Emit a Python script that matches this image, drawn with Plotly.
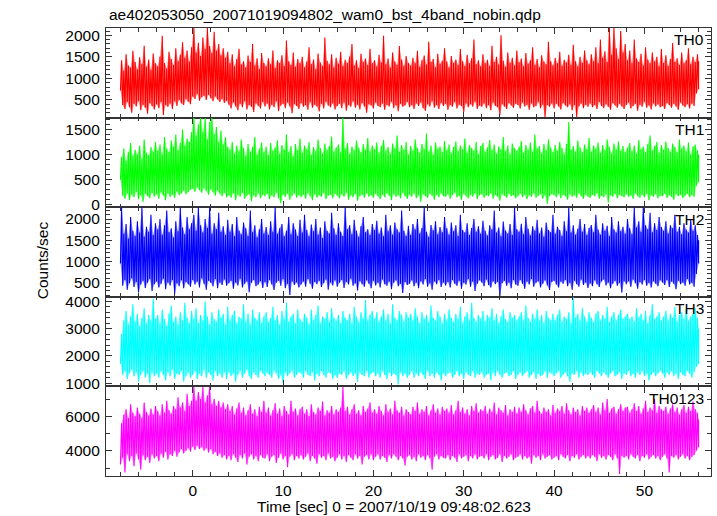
import plotly.graph_objects as go
from plotly.subplots import make_subplots

# ---------------- data ----------------
title_text = "ae402053050_20071019094802_wam0_bst_4band_nobin.qdp"
band_names = ["TH0", "TH1", "TH2", "TH3", "TH0123"]
band_colors = ["#ff0000", "#00ff00", "#0000ff", "#00ffff", "#ff00ff"]
band_tints = ["rgba(255,0,0,0.45)", "rgba(0,255,0,0.45)", "rgba(0,0,255,0.45)",
              "rgba(0,255,255,0.45)", "rgba(255,0,255,0.45)"]

# sample times (sec): one envelope sample every 0.25 s from -8 to 56
t_env = [-8.0 + 0.25 * i for i in range(257)]

# per-sample upper / lower extent of the light curve (counts/sec)
th0_hi = [1420, 1180, 1560, 1300, 1250, 1640, 1380, 1210, 1490, 1330, 1760, 1270, 1440, 1200, 1580, 1350,
          1290, 1510, 1990, 1360, 1230, 1620, 1450, 1310, 1700, 1400, 1550, 1840, 1480, 1650, 1390, 1720,
          2170, 1600, 1830, 1520, 1950, 1680, 2170, 1750, 1590, 2080, 1640, 1800, 1530, 1700, 1480, 1620,
          1350, 1560, 1280, 1450, 1690, 1320, 1400, 1250, 1530, 1380, 1800, 1300, 1470, 1220, 1590, 1360,
          1280, 1470, 1330, 1650, 1240, 1420, 1360, 1540, 1290, 1880, 1400, 1310, 1600, 1270, 1450, 1350,
          1500, 1260, 1390, 1720, 1330, 1440, 1210, 1580, 1370, 1290, 1950, 1410, 1320, 1560, 1250, 1480,
          1340, 1620, 1290, 1430, 1360, 1510, 1800, 1300, 1420, 1240, 1570, 1380, 1460, 1310, 1690, 1350,
          1420, 1280, 1550, 1370, 1990, 1330, 1460, 1250, 1600, 1390, 1310, 1750, 1440, 1290, 1520, 1360,
          1300, 1480, 1350, 1640, 1270, 1420, 1530, 1320, 1850, 1380, 1450, 1260, 1570, 1340, 1410, 1700,
          1390, 1250, 1520, 1360, 1440, 1310, 1680, 1400, 1290, 1550, 1350, 1470, 1900, 1330, 1420, 1280,
          1560, 1350, 1430, 1290, 1760, 1380, 1500, 1320, 2000, 1410, 1270, 1600, 1360, 1480, 1300, 1650,
          1370, 1460, 1280, 1590, 1340, 1420, 1720, 1310, 1450, 1260, 1540, 1390, 1330, 1850, 1400, 1300,
          1480, 1350, 1620, 1290, 1430, 1370, 1550, 1310, 1780, 1400, 1280, 1500, 1360, 1650, 1420, 1330,
          1560, 1400, 1720, 1350, 1900, 1480, 1630, 1380, 2170, 1550, 2170, 1700, 1450, 2100, 1600, 1800,
          1420, 1650, 1350, 1900, 1460, 1380, 1570, 1300, 1720, 1440, 1350, 1600, 1390, 1500, 1280, 1680,
          1360, 1540, 1290, 1450, 1820, 1380, 1470, 1310, 1600, 1350, 1420, 1700, 1330, 1500, 1380, 1560,
          1400]
th0_lo = [720, 380, 290, 450, 330, 200, 410, 350, 470, 260, 390, 320, 180, 430, 360, 280,
          400, 310, 450, 150, 380, 340, 420, 290, 470, 360, 500, 420, 380, 520, 460, 400,
          580, 520, 640, 480, 560, 600, 500, 620, 540, 470, 580, 510, 450, 520, 430, 480,
          390, 300, 440, 350, 260, 410, 330, 470, 280, 380, 340, 220, 420, 360, 300, 450,
          350, 420, 280, 390, 330, 470, 240, 370, 410, 310, 440, 350, 190, 400, 360, 290,
          430, 340, 380, 270, 450, 320, 390, 350, 230, 410, 300, 460, 370, 330, 420, 280,
          360, 410, 310, 440, 250, 380, 340, 470, 320, 390, 280, 430, 350, 200, 400, 370,
          300, 440, 360, 330, 420, 270, 390, 350, 460, 310, 380, 240, 410, 340, 370, 450,
          330, 380, 290, 420, 360, 440, 310, 250, 400, 350, 470, 320, 380, 290, 430, 360,
          410, 270, 380, 340, 450, 300, 390, 360, 220, 420, 330, 400, 350, 460, 290, 370,
          340, 420, 310, 380, 260, 440, 360, 330, 150, 400, 350, 290, 430, 370, 320, 410,
          380, 300, 440, 350, 390, 270, 420, 330, 360, 450, 310, 390, 100, 380, 340, 420,
          300, 410, 350, 280, 430, 370, 330, 400, 260, 380, 100, 350, 420, 310, 390, 340,
          420, 330, 380, 290, 450, 360, 310, 400, 340, 270, 430, 370, 320, 410, 350, 290,
          380, 440, 300, 360, 410, 250, 390, 340, 460, 320, 370, 280, 420, 350, 400, 330,
          360, 290, 430, 380, 320, 410, 350, 270, 440, 370, 330, 400, 300, 420, 360, 650,
          750]

th1_hi = [950, 1120, 880, 1050, 1230, 970, 1100, 1010, 1180, 920, 1300, 1040, 990, 1150, 1060, 1250,
          1080, 1200, 1010, 1350, 1120, 1050, 1280, 1160, 1400, 1090, 1230, 1500, 1180, 1320, 1250, 1450,
          1740, 1380, 1600, 1740, 1450, 1740, 1300, 1650, 1740, 1400, 1550, 1250, 1480, 1200, 1350, 1150,
          1100, 1250, 1020, 1180, 1070, 1300, 1130, 980, 1210, 1060, 1150, 1350, 1000, 1120, 1240, 1050,
          1160, 990, 1230, 1080, 1140, 1280, 1020, 1190, 1100, 1400, 1050, 1170, 960, 1210, 1090, 1320,
          1040, 1180, 1110, 1250, 1000, 1150, 1070, 1300, 1130, 1020, 1220, 1090, 1170, 1360, 1060, 1140,
          1200, 1050, 1740, 1120, 1230, 1010, 1160, 1090, 1280, 1140, 1040, 1210, 1100, 1330, 1070, 1180,
          1110, 1240, 1030, 1170, 1290, 1080, 1150, 1020, 1220, 1120, 1380, 1060, 1190, 1100, 1250, 1000,
          1170, 1080, 1300, 1130, 1040, 1210, 1110, 1420, 1060, 1180, 1000, 1240, 1120, 1160, 1050, 1270,
          1090, 1200, 1030, 1150, 1260, 1070, 1180, 1110, 1320, 1040, 1190, 1130, 1080, 1250, 1010, 1170,
          1230, 1060, 1140, 1290, 1090, 1200, 1020, 1160, 1110, 1350, 1070, 1180, 1000, 1220, 1130, 1080,
          1150, 1270, 1040, 1190, 1100, 1240, 1060, 1400, 1120, 1170, 1030, 1210, 1090, 1300, 1140, 1050,
          1190, 1080, 1250, 1130, 1020, 1210, 1650, 1100, 1170, 1060, 1280, 1140, 1050, 1200, 1110, 1330,
          1060, 1180, 1120, 1240, 1040, 1190, 1090, 1300, 1150, 1030, 1220, 1110, 1260, 1080, 1170, 1050,
          1140, 1230, 1070, 1180, 1020, 1290, 1110, 1160, 1050, 1210, 1380, 1090, 1170, 1250, 1030, 1190,
          1100, 1260, 1130, 1060, 1220, 1150, 1040, 1300, 1120, 1180, 1070, 1240, 1010, 1160, 1200, 1080,
          1000]
th1_lo = [500, 180, 120, 230, 90, 200, 150, 260, 110, 190, 60, 220, 170, 130, 240, 160,
          210, 120, 250, 180, 90, 230, 160, 200, 140, 260, 190, 230, 280, 210, 250, 300,
          320, 260, 350, 290, 240, 330, 270, 200, 310, 250, 180, 280, 220, 170, 240, 150,
          190, 140, 230, 90, 200, 160, 240, 120, 180, 210, 70, 190, 150, 230, 130, 200,
          170, 220, 110, 190, 150, 240, 130, 30, 200, 160, 220, 100, 180, 230, 140, 190,
          150, 200, 120, 230, 170, 90, 210, 140, 190, 160, 240, 110, 180, 200, 130, 220,
          180, 130, 210, 160, 240, 100, 190, 150, 220, 80, 170, 200, 140, 230, 160, 190,
          140, 220, 170, 110, 200, 150, 230, 180, 90, 210, 160, 190, 130, 240, 170, 120,
          200, 160, 230, 130, 190, 60, 210, 170, 140, 220, 180, 100, 200, 150, 230, 170,
          160, 210, 120, 190, 240, 150, 180, 100, 220, 170, 130, 200, 160, 230, 110, 190,
          210, 140, 190, 170, 230, 120, 200, 160, 80, 210, 180, 140, 220, 170, 190, 130,
          170, 220, 150, 200, 110, 190, 160, 230, 140, 180, 210, 120, 190, 20, 170, 210,
          190, 150, 220, 130, 200, 170, 100, 210, 160, 190, 140, 230, 170, 120, 200, 160,
          140, 200, 170, 230, 120, 180, 150, 210, 40, 190, 160, 220, 130, 200, 170, 150,
          210, 160, 190, 120, 230, 170, 140, 200, 150, 220, 90, 190, 160, 210, 130, 180,
          170, 220, 140, 190, 160, 100, 210, 170, 200, 130, 180, 220, 150, 190, 160, 380,
          450]

th2_hi = [2280, 1650, 1880, 1540, 2050, 1720, 1600, 1950, 1680, 2280, 1580, 1820, 1700, 2100, 1620, 1900,
          1750, 2000, 1630, 1850, 2200, 1690, 1780, 1560, 1950, 1710, 2280, 1800, 1640, 2050, 1760, 1900,
          2100, 1720, 2280, 1850, 1680, 2000, 1790, 2280, 1650, 1900, 1760, 2150, 1700, 1830, 1620, 1980,
          1700, 1880, 1590, 2050, 1730, 1640, 1920, 1780, 1600, 2200, 1690, 1850, 1570, 1760, 2000, 1660,
          1810, 1620, 1950, 1700, 2280, 1650, 1780, 1880, 1590, 1720, 2050, 1640, 1900, 1750, 1600, 1980,
          1680, 2100, 1740, 1590, 1870, 1710, 2000, 1630, 1800, 1550, 1950, 1720, 1660, 2150, 1780, 1620,
          1900, 1700, 1600, 2280, 1760, 1850, 1640, 1980, 1720, 1580, 1830, 2050, 1690, 1760, 1620, 1880,
          1740, 1960, 1650, 1800, 1590, 2100, 1710, 1850, 1630, 1920, 1760, 1680, 2200, 1720, 1600, 1840,
          1620, 1880, 1750, 2000, 1660, 1790, 2280, 1700, 1580, 1860, 1730, 1950, 1640, 1810, 1690, 2050,
          1780, 1630, 1920, 1710, 1850, 1600, 2100, 1740, 1680, 1900, 1620, 1790, 2000, 1700, 1830, 1650,
          1960, 1720, 1610, 1850, 1750, 2200, 1680, 1800, 1590, 1940, 1730, 1660, 1880, 1620, 2280, 1760,
          1700, 1890, 1640, 2050, 1770, 1610, 1830, 1720, 1980, 1660, 1800, 1580, 1920, 1740, 1690, 2100,
          1650, 1820, 1740, 1600, 1950, 1710, 2280, 1680, 1850, 1630, 1770, 2000, 1700, 1880, 1620, 1790,
          1860, 1690, 2100, 1750, 1630, 1900, 1720, 1840, 1600, 2050, 1760, 1680, 1950, 1710, 1820, 1650,
          2000, 1780, 1640, 2280, 1800, 1950, 1700, 2280, 1850, 1760, 2150, 1690, 1900, 1740, 2050, 1810,
          1720, 1950, 1660, 1850, 1780, 2100, 1700, 1820, 1640, 1900, 1750, 1680, 1980, 1720, 1850, 1620,
          1500]
th2_lo = [950, 420, 560, 330, 480, 600, 390, 510, 260, 450, 540, 370, 490, 580, 300, 460,
          520, 380, 470, 590, 340, 500, 430, 560, 220, 480, 410, 550, 360, 510, 460, 400,
          560, 450, 520, 380, 600, 470, 330, 540, 490, 410, 580, 360, 500, 440, 570, 420,
          480, 540, 350, 500, 430, 590, 380, 470, 520, 270, 490, 560, 410, 450, 530, 370,
          510, 390, 560, 450, 320, 490, 540, 420, 580, 360, 470, 200, 520, 440, 500, 380,
          450, 520, 400, 580, 470, 350, 510, 460, 540, 390, 480, 570, 330, 500, 430, 550,
          400, 490, 560, 370, 510, 450, 590, 420, 480, 310, 530, 460, 400, 550, 470, 360,
          540, 430, 500, 380, 570, 460, 420, 520, 340, 490, 550, 410, 470, 250, 510, 440,
          470, 550, 410, 500, 360, 530, 450, 580, 400, 480, 330, 520, 460, 560, 390, 500,
          430, 510, 380, 560, 470, 420, 540, 350, 490, 450, 580, 400, 520, 300, 470, 550,
          500, 410, 570, 440, 380, 530, 460, 510, 170, 480, 540, 420, 500, 360, 560, 450,
          420, 560, 470, 350, 520, 450, 580, 400, 490, 530, 380, 470, 550, 430, 320, 510,
          540, 450, 380, 520, 470, 560, 410, 490, 330, 540, 460, 400, 570, 440, 500, 370,
          480, 410, 550, 460, 390, 520, 570, 430, 500, 360, 470, 540, 420, 490, 260, 530,
          460, 530, 400, 570, 480, 350, 510, 450, 560, 420, 490, 380, 530, 470, 410, 550,
          500, 440, 560, 390, 520, 470, 340, 540, 460, 500, 420, 580, 450, 490, 400, 700,
          950]

th3_hi = [2800, 3300, 3650, 3150, 3450, 3900, 3250, 3550, 3100, 3400, 3750, 3200, 3500, 3300, 4100, 3350,
          3500, 3200, 3700, 3350, 3100, 3550, 3850, 3250, 3450, 3150, 3600, 3300, 3950, 3400, 3200, 3650,
          3350, 3750, 3200, 3500, 3300, 4000, 3450, 3150, 3600, 3350, 3250, 3700, 3400, 3550, 3150, 3800,
          3300, 3500, 3650, 3200, 3450, 3350, 3900, 3250, 3550, 3150, 3700, 3400, 3300, 3600, 3200, 3450,
          3600, 3250, 3400, 3800, 3300, 3500, 3150, 3650, 3350, 3950, 3250, 3450, 3550, 3200, 3700, 3350,
          3250, 3550, 3400, 3150, 3700, 3300, 3500, 3850, 3200, 3450, 3350, 3600, 3250, 3750, 3400, 3300,
          3500, 3200, 3650, 3400, 3300, 3550, 3200, 3800, 3450, 3250, 3600, 3350, 4050, 3300, 3500, 3650,
          3350, 3600, 3250, 3450, 3700, 3300, 3550, 3200, 3900, 3400, 3300, 3650, 3500, 3250, 3600, 3400,
          3550, 3300, 3750, 3450, 3200, 3600, 3350, 3500, 3250, 3850, 3400, 3300, 3650, 3450, 3200, 3550,
          3300, 3700, 3400, 3250, 3550, 3350, 3800, 3200, 3450, 3600, 3300, 3950, 3400, 3250, 3500, 3350,
          3650, 3250, 3500, 3400, 3750, 3300, 3550, 3200, 3450, 3700, 3350, 3250, 3600, 3400, 3500, 3300,
          3450, 3600, 3300, 3850, 3400, 3250, 3550, 3350, 3700, 3300, 3500, 3200, 3650, 3400, 3300, 3550,
          3300, 3500, 3700, 3250, 3450, 3350, 3600, 3200, 4150, 3400, 3550, 3300, 3750, 3450, 3250, 3600,
          3400, 3250, 3550, 3650, 3300, 3500, 3350, 3800, 3250, 3450, 3600, 3300, 3500, 3700, 3350, 3450,
          3550, 3350, 3450, 3250, 3750, 3400, 3550, 3300, 3650, 3200, 3500, 3900, 3350, 3450, 3600, 3300,
          3450, 3650, 3300, 3550, 3400, 3800, 3250, 3500, 3600, 3350, 3700, 3300, 3450, 3550, 3750, 3400,
          3000]
th3_lo = [1700, 1300, 1450, 1150, 1350, 1500, 1250, 1400, 1050, 1300, 1450, 1200, 1350, 1000, 1400, 1250,
          1350, 1200, 1450, 1300, 1100, 1400, 1250, 1500, 1150, 1350, 1300, 1450, 1050, 1250, 1400, 1200,
          1300, 1450, 1150, 1350, 1250, 1500, 1200, 1400, 1300, 1100, 1450, 1250, 1350, 1200, 1400, 1150,
          1400, 1250, 1350, 1050, 1300, 1450, 1200, 1350, 1500, 1250, 1150, 1400, 1300, 1200, 1450, 1350,
          1250, 1400, 1300, 1200, 1450, 1350, 1150, 1300, 1000, 1400, 1250, 1350, 1450, 1200, 1300, 1400,
          1350, 1200, 1450, 1300, 1250, 1400, 1100, 1350, 1250, 1450, 1300, 1200, 1400, 1350, 1150, 1300,
          1200, 1350, 1300, 1450, 1150, 1300, 1400, 1250, 1350, 1050, 1400, 1300, 1250, 1450, 1200, 1350,
          1400, 1250, 1350, 1200, 1450, 1300, 1150, 1400, 1250, 1350, 1300, 950, 1400, 1250, 1350, 1200,
          1300, 1450, 1200, 1350, 1250, 1400, 1300, 1150, 1450, 1250, 1350, 1200, 1400, 1300, 1100, 1350,
          1250, 1350, 1400, 1200, 1300, 1450, 1250, 1350, 1150, 1400, 1300, 1250, 1450, 1200, 1350, 1300,
          1400, 1200, 1300, 1350, 1100, 1400, 1250, 1450, 1300, 1200, 1350, 1400, 1250, 1300, 1450, 1150,
          1300, 1400, 1250, 1350, 1450, 1200, 1300, 1400, 1150, 1350, 1250, 1300, 1450, 1200, 1400, 1350,
          1250, 1350, 1450, 1200, 1300, 1400, 1250, 1050, 1350, 1300, 1450, 1200, 1400, 1250, 1350, 1300,
          1400, 1300, 1200, 1450, 1350, 1250, 1400, 1300, 1200, 1350, 1450, 1250, 1300, 1400, 1150, 1350,
          1300, 1450, 1250, 1350, 1200, 1400, 1300, 1450, 1250, 1350, 1100, 1300, 1400, 1250, 1350, 1450,
          1350, 1200, 1400, 1300, 1450, 1250, 1350, 1150, 1400, 1300, 1250, 1450, 1350, 1200, 1400, 1600,
          1700]

th0123_hi = [5600, 6100, 6400, 5900, 6700, 6200, 6000, 6500, 6150, 5900, 6800, 6250, 6050, 6450, 6100, 6600,
             6300, 6050, 6700, 6200, 6900, 6350, 6150, 6600, 6400, 7100, 6500, 6800, 6300, 7300, 6600, 6900,
             7700, 6900, 7400, 7000, 7700, 6800, 7200, 7700, 6700, 7000, 6600, 6900, 6500, 6800, 6400, 6700,
             6300, 6600, 6100, 6450, 6800, 6200, 6500, 6050, 6350, 6700, 6150, 6400, 6000, 6550, 6250, 6900,
             6200, 6500, 6050, 6350, 6750, 6150, 6450, 6000, 6600, 6300, 6100, 6900, 6250, 6450, 6050, 6400,
             6550, 6150, 6400, 6000, 6700, 6250, 6100, 6500, 6300, 6850, 6050, 6350, 6200, 6600, 6100, 6400,
             6250, 6500, 7700, 6300, 6550, 6100, 6400, 6700, 6150, 6350, 6050, 6600, 6250, 6450, 6800, 6200,
             6400, 6150, 6600, 6300, 6050, 6700, 6250, 6450, 6100, 6900, 6350, 6200, 6550, 6050, 6400, 6250,
             6100, 6550, 6300, 6800, 6150, 6400, 6250, 6600, 6050, 6350, 6700, 6200, 6450, 6100, 6550, 6300,
             6450, 6200, 6650, 6100, 6350, 6900, 6250, 6500, 6150, 6400, 6050, 6600, 6300, 6750, 6200, 6400,
             6300, 6600, 6150, 6450, 6250, 6800, 6100, 6500, 6350, 6200, 6650, 6050, 6400, 6250, 6550, 6150,
             6500, 6250, 6700, 6350, 6100, 6450, 6600, 6200, 6900, 6300, 6150, 6500, 6250, 6400, 6050, 6650,
             6200, 6450, 6300, 6600, 6150, 6750, 6350, 6100, 6500, 6250, 6400, 6050, 6600, 6300, 6500, 6200,
             6400, 6650, 6250, 6500, 6100, 6800, 6350, 7000, 6200, 6450, 6550, 6150, 6400, 6700, 6300, 6500,
             6550, 6200, 6400, 6750, 6300, 6600, 6150, 6450, 6900, 6250, 6500, 6350, 7000, 6200, 6600, 6400,
             6300, 6550, 6150, 6450, 6700, 6250, 6500, 6100, 6400, 6650, 6200, 6550, 6300, 6850, 6400, 6200,
             5800]
th0123_lo = [3200, 3600, 2750, 3800, 3400, 3700, 3100, 3850, 3500, 2900, 3750, 3450, 3650, 3300, 3800, 3550,
             3700, 3400, 3850, 3600, 3950, 3500, 3800, 3700, 4000, 3650, 3900, 4100, 3850, 4000, 4150, 3950,
             4250, 4050, 4300, 4100, 4200, 4000, 4150, 3900, 4100, 3800, 3950, 3700, 3850, 3600, 3750, 3500,
             3700, 3450, 3800, 3600, 3350, 3750, 3550, 3850, 3200, 3650, 3800, 3500, 3700, 3400, 3750, 3600,
             3550, 3800, 3400, 3650, 3750, 3300, 3600, 3850, 3500, 3700, 3050, 3650, 3800, 3450, 3700, 3550,
             3750, 3500, 3650, 3850, 3400, 3700, 3550, 3250, 3800, 3600, 3700, 3450, 3850, 3550, 3650, 3400,
             3600, 3800, 3500, 3700, 3350, 3750, 3600, 3450, 3800, 3550, 3700, 3200, 3650, 3750, 3500, 3800,
             3450, 3650, 3800, 3500, 3700, 3600, 3350, 3750, 3550, 3800, 3650, 3450, 3700, 3550, 3150, 3650,
             3750, 3500, 3650, 3400, 3800, 3600, 3700, 3450, 3750, 3550, 2900, 3650, 3800, 3500, 3700, 3600,
             3550, 3750, 3450, 3700, 3600, 3350, 3800, 3550, 3650, 3750, 3400, 3700, 3550, 3800, 3500, 3650,
             3700, 3550, 3800, 3450, 3650, 3750, 3500, 3600, 3800, 3350, 3700, 3550, 3650, 3800, 3450, 3600,
             3650, 3800, 3500, 3700, 3550, 3650, 3250, 3750, 3600, 3700, 3450, 3800, 3550, 3650, 3750, 3500,
             3600, 3700, 3450, 3800, 3650, 3550, 3750, 3400, 3700, 3600, 3800, 3500, 3650, 3750, 3550, 3700,
             3550, 3750, 3650, 3400, 3800, 3600, 3700, 3500, 3750, 3650, 3450, 3800, 3550, 2650, 3700, 3600,
             3700, 3500, 3800, 3650, 3550, 3750, 3400, 3700, 3600, 3800, 3500, 3650, 3750, 3550, 3700, 3450,
             3650, 3800, 3550, 2750, 3700, 3600, 3750, 3500, 3650, 3800, 3550, 3700, 3450, 3650, 3750, 4000,
             4200]

y_ranges = [[90, 2170], [-50, 1740], [160, 2280], [880, 4170], [2540, 7730]]
y_dticks = [500, 500, 500, 1000, 2000]
y_minor = [100, 100, 100, 200, 1000]

series = [(th0_lo, th0_hi), (th1_lo, th1_hi), (th2_lo, th2_hi), (th3_lo, th3_hi), (th0123_lo, th0123_hi)]
for lo, hi in series:
    assert len(lo) == len(t_env) and len(hi) == len(t_env)

# ---------------- figure ----------------
FONT = "Liberation Sans, Arial, Helvetica, sans-serif"
AX = "#333333"

fig = make_subplots(rows=5, cols=1, shared_xaxes=True, vertical_spacing=0)

n = len(t_env)
t_hi = [t_env[i] + 0.125 if i < n - 1 else t_env[i] for i in range(n)]
for k, (lo, hi) in enumerate(series):
    # translucent envelope between the lower and upper extents
    fig.add_trace(go.Scatter(x=t_env + t_hi[::-1], y=lo + hi[::-1], fill="toself",
                             fillcolor=band_tints[k], mode="lines",
                             line=dict(width=0, color=band_colors[k], simplify=False),
                             showlegend=False, hoverinfo="skip"), row=k + 1, col=1)
    # the light curve itself, as a dense zig-zag between the extents
    xs, ys = [], []
    for i in range(n):
        xs += [t_env[i], t_hi[i]]
        ys += [lo[i], hi[i]]
    fig.add_trace(go.Scatter(x=xs, y=ys, mode="lines",
                             line=dict(width=1.1, color=band_colors[k], simplify=False),
                             showlegend=False, hoverinfo="skip"), row=k + 1, col=1)

axis_common = dict(showline=True, linecolor=AX, linewidth=1.2, mirror="ticks",
                   ticks="inside", tickcolor=AX, tickwidth=1.2, showgrid=False, zeroline=False,
                   tickfont=dict(family=FONT, size=15.5, color="#000000"))

for k in range(5):
    fig.update_yaxes(range=y_ranges[k], dtick=y_dticks[k], tick0=0, ticklen=6,
                     minor=dict(dtick=y_minor[k], ticks="inside", ticklen=3.5, tickcolor=AX, tickwidth=1),
                     ticklabelstandoff=2, **axis_common, row=k + 1, col=1)
    fig.update_xaxes(range=[-9.6, 57.37], dtick=10, tick0=0, ticklen=6,
                     minor=dict(dtick=2, ticks="inside", ticklen=3.5, tickcolor=AX, tickwidth=1),
                     **axis_common, row=k + 1, col=1)
    dom = fig.layout["yaxis" + ("" if k == 0 else str(k + 1))].domain
    fig.add_annotation(text=band_names[k], xref="paper", yref="paper", x=0.992, y=dom[1] - 0.003,
                       xanchor="right", yanchor="top", showarrow=False,
                       font=dict(family=FONT, size=15.5, color="#000000"))

fig.update_xaxes(ticklabelstandoff=0, row=5, col=1)

fig.add_annotation(text=title_text, xref="paper", yref="paper", x=0.002, y=1.03,
                   xanchor="left", yanchor="middle", showarrow=False,
                   font=dict(family=FONT, size=15.5, color="#000000"))
fig.add_annotation(text="Counts/sec", xref="paper", yref="paper", x=-0.1057, y=0.4816,
                   xanchor="center", yanchor="middle", textangle=-90, showarrow=False,
                   font=dict(family=FONT, size=15.5, color="#000000"))
fig.add_annotation(text="Time [sec] 0 = 2007/10/19 09:48:02.623", xref="paper", yref="paper",
                   x=0.4756, y=-0.0685, xanchor="center", yanchor="middle", showarrow=False,
                   font=dict(family=FONT, size=15.5, color="#000000"))

fig.update_layout(width=717, height=516, margin=dict(l=106, r=5.5, t=27.5, b=40),
                  paper_bgcolor="white", plot_bgcolor="white", showlegend=False)

fig.write_html("out.html", config={"displayModeBar": False},
               post_script="document.body.style.margin='0px';")
